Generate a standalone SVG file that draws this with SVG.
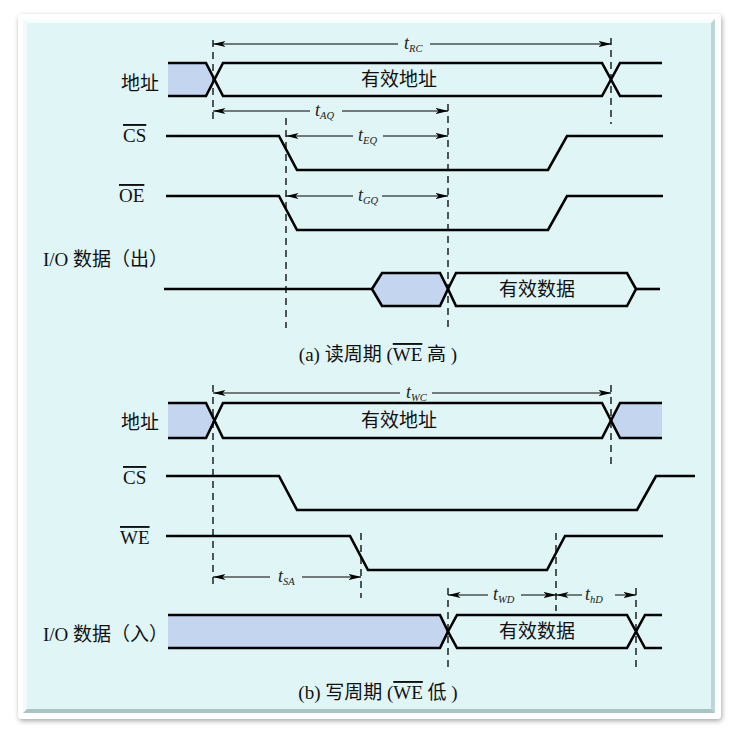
<svg xmlns="http://www.w3.org/2000/svg" width="735" height="735" viewBox="0 0 735 735">
<defs>
  <filter id="shadow" x="-5%" y="-5%" width="110%" height="110%">
    <feDropShadow dx="1" dy="2" stdDeviation="2.5" flood-color="#000" flood-opacity="0.35"/>
  </filter>
  <marker id="arr" viewBox="0 0 13 7" refX="12.5" refY="3.5" markerWidth="13" markerHeight="7" markerUnits="userSpaceOnUse" orient="auto-start-reverse">
    <path d="M0,0.5 L13,3.5 L0,6.5 L3,3.5 z" fill="#000"/>
  </marker>
  <style>
    .sig{fill:none;stroke:#000;stroke-width:2.6;stroke-linejoin:miter}
    .blue{fill:#c4d5ef;stroke:none}
    .hexb{fill:#c4d5ef;stroke:#000;stroke-width:2.6}
    .hexw{fill:none;stroke:#000;stroke-width:2.6}
    .dash{fill:none;stroke:#000;stroke-width:1.3;stroke-dasharray:7 5}
    .dim{fill:none;stroke:#000;stroke-width:1}
    .cjk{font-family:"Liberation Serif","Noto Sans CJK SC",serif;font-size:19px;fill:#111}
    .lat{font-family:"Liberation Serif","Noto Sans CJK SC",serif;font-size:19px;fill:#111}
    .t{font-family:"Liberation Serif",serif;font-style:italic;font-size:18px;fill:#222}
    .sub{font-size:10.5px}
    .ov{text-decoration:overline}
  </style>
</defs>

<!-- frame -->
<rect x="18" y="14" width="703" height="705" rx="4" fill="#ffffff" filter="url(#shadow)"/>
<rect x="23" y="19" width="692" height="694" fill="#e0f5f5"/>
<polygon points="23,19 715,19 711,23 27,23" fill="#f6fdfd"/>
<polygon points="23,19 27,23 27,709 23,713" fill="#f0fbfb"/>
<polygon points="715,19 715,713 711,709 711,23" fill="#bcd5d5"/>
<polygon points="23,713 715,713 711,709 27,709" fill="#a9c4c4"/>

<!-- ===== (a) read cycle ===== -->
<g id="read-addr-label"><text class="cjk" x="121" y="90">地址</text></g>
<g id="read-addr">
  <polygon class="blue" points="168,63 206,63 214.5,79.5 206,96 168,96"/>
  <polyline class="sig" points="168,63 206,63 223,96 602,96 620,63 662,63"/>
  <polyline class="sig" points="168,96 206,96 223,63 602,63 620,96 662,96"/>
  <text class="cjk" x="399" y="86" text-anchor="middle">有效地址</text>
</g>

<g id="read-cs-label"><text class="lat" x="123" y="142"><tspan class="ov">CS</tspan></text></g>
<g id="read-cs"><polyline class="sig" points="166,136 279,136 297,170 548,170 567,136 663,136"/></g>

<g id="read-oe-label"><text class="lat" x="119" y="202"><tspan class="ov">OE</tspan></text></g>
<g id="read-oe"><polyline class="sig" points="166,196 279,196 297,230 548,230 567,196 663,196"/></g>

<g id="read-io-label"><text class="cjk" x="43" y="266">I/O 数据（出）</text></g>
<g id="read-io">
  <polyline class="sig" points="164,289 372,289"/>
  <polygon class="hexb" points="372,289 382,273 440,273 448,289 440,306 382,306"/>
  <polygon class="hexw" points="448,289 456,273 627,273 636,289 627,306 456,306"/>
  <polyline class="sig" points="636,289 660,289"/>
  <text class="cjk" x="537" y="296" text-anchor="middle">有效数据</text>
</g>

<g id="caption-a"><text class="cjk" x="378" y="361" text-anchor="middle">(a) 读周期 (<tspan class="ov">WE</tspan> 高 )</text></g>

<!-- ===== (b) write cycle ===== -->
<g id="write-addr-label"><text class="cjk" x="121" y="429">地址</text></g>
<g id="write-addr">
  <polygon class="blue" points="168,403 206,403 214.5,420.5 206,438 168,438"/>
  <polygon class="blue" points="611.5,420.5 620,403 662,403 662,438 620,438"/>
  <polyline class="sig" points="168,403 206,403 223,438 602,438 620,403 662,403"/>
  <polyline class="sig" points="168,438 206,438 223,403 602,403 620,438 662,438"/>
  <text class="cjk" x="399" y="427" text-anchor="middle">有效地址</text>
</g>

<g id="write-cs-label"><text class="lat" x="123" y="484"><tspan class="ov">CS</tspan></text></g>
<g id="write-cs"><polyline class="sig" points="166,476 279,476 297,510 637,510 656,476 695,476"/></g>

<g id="write-we-label"><text class="lat" x="120" y="544"><tspan class="ov">WE</tspan></text></g>
<g id="write-we"><polyline class="sig" points="166,536 350,536 368,570 547,570 565,536 663,536"/></g>

<g id="write-io-label"><text class="cjk" x="43" y="641">I/O 数据（入）</text></g>
<g id="write-io">
  <polygon class="blue" points="168,615 440,615 448,631.5 440,648 168,648"/>
  <polyline class="sig" points="168,615 440,615 448,631.5 440,648 168,648"/>
  <polygon class="hexw" points="448,631.5 457,615 627,615 636,631.5 627,648 457,648"/>
  <polyline class="sig" points="636,631.5 645,615 662,615"/>
  <polyline class="sig" points="636,631.5 645,648 662,648"/>
  <text class="cjk" x="537" y="638" text-anchor="middle">有效数据</text>
</g>

<g id="caption-b"><text class="cjk" x="378" y="699" text-anchor="middle">(b) 写周期 (<tspan class="ov">WE</tspan> 低 )</text></g>

<!-- ===== connectors: dashed guides and dimension arrows ===== -->
<g id="connectors">
  <!-- read guides -->
  <line class="dash" x1="213" y1="40" x2="213" y2="123"/>
  <line class="dash" x1="611" y1="38" x2="611" y2="124"/>
  <line class="dash" x1="286" y1="118" x2="286" y2="328"/>
  <line class="dash" x1="448" y1="104" x2="448" y2="328"/>
  <!-- tRC -->
  <line class="dim" x1="398" y1="44" x2="213" y2="44" marker-end="url(#arr)"/>
  <line class="dim" x1="430" y1="44" x2="611" y2="44" marker-end="url(#arr)"/>
  <!-- tAQ -->
  <line class="dim" x1="310" y1="111" x2="213" y2="111" marker-end="url(#arr)"/>
  <line class="dim" x1="342" y1="111" x2="448" y2="111" marker-end="url(#arr)"/>
  <!-- tEQ -->
  <line class="dim" x1="353" y1="136" x2="286" y2="136" marker-end="url(#arr)"/>
  <line class="dim" x1="383" y1="136" x2="448" y2="136" marker-end="url(#arr)"/>
  <!-- tGQ -->
  <line class="dim" x1="353" y1="196" x2="286" y2="196" marker-end="url(#arr)"/>
  <line class="dim" x1="382" y1="196" x2="448" y2="196" marker-end="url(#arr)"/>

  <!-- write guides -->
  <line class="dash" x1="213" y1="385" x2="213" y2="588"/>
  <line class="dash" x1="611" y1="385" x2="611" y2="465"/>
  <line class="dash" x1="361" y1="533" x2="361" y2="598"/>
  <line class="dash" x1="556" y1="533" x2="556" y2="611"/>
  <line class="dash" x1="448" y1="588" x2="448" y2="668"/>
  <line class="dash" x1="636" y1="588" x2="636" y2="668"/>
  <!-- tWC -->
  <line class="dim" x1="400" y1="393" x2="213" y2="393" marker-end="url(#arr)"/>
  <line class="dim" x1="432" y1="393" x2="611" y2="393" marker-end="url(#arr)"/>
  <!-- tSA -->
  <line class="dim" x1="270" y1="577" x2="213" y2="577" marker-end="url(#arr)"/>
  <line class="dim" x1="302" y1="577" x2="361" y2="577" marker-end="url(#arr)"/>
  <!-- tWD -->
  <line class="dim" x1="488" y1="595" x2="448" y2="595" marker-end="url(#arr)"/>
  <line class="dim" x1="521" y1="595" x2="556" y2="595" marker-end="url(#arr)"/>
  <!-- thD -->
  <line class="dim" x1="582" y1="595" x2="556" y2="595" marker-end="url(#arr)"/>
  <line class="dim" x1="615" y1="595" x2="636" y2="595" marker-end="url(#arr)"/>

  <!-- dimension labels -->
  <text class="t" x="404" y="49">t<tspan class="sub" dy="3">RC</tspan></text>
  <text class="t" x="315" y="116">t<tspan class="sub" dy="3">AQ</tspan></text>
  <text class="t" x="358" y="141">t<tspan class="sub" dy="3">EQ</tspan></text>
  <text class="t" x="358" y="201">t<tspan class="sub" dy="3">GQ</tspan></text>
  <text class="t" x="406" y="398">t<tspan class="sub" dy="3">WC</tspan></text>
  <text class="t" x="278" y="582">t<tspan class="sub" dy="3">SA</tspan></text>
  <text class="t" x="493" y="600">t<tspan class="sub" dy="3">WD</tspan></text>
  <text class="t" x="585" y="600">t<tspan class="sub" dy="3">hD</tspan></text>
</g>
</svg>
